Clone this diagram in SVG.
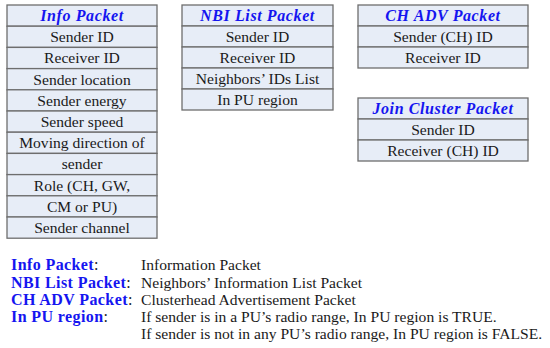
<svg xmlns="http://www.w3.org/2000/svg" width="550" height="348" viewBox="0 0 550 348">
<style>
.cell{fill:#e7edf7;stroke:#6e6e6e;stroke-width:1.3}
text{font-family:"Liberation Serif","Times New Roman",serif;font-size:15.6px}
.t{fill:#1a1a1a;text-anchor:middle}
.h{font-size:16px;letter-spacing:0.6px;font-weight:bold;font-style:italic;fill:#1515f0;text-anchor:middle}
.lb{font-size:16px;letter-spacing:0.4px;font-weight:bold;fill:#1515f0}
.ld{fill:#1a1a1a}
.c{fill:#1a1a1a;font-weight:normal}
</style>
<rect width="550" height="348" fill="#ffffff"/>
<g id="info-packet">
<rect class="cell" x="7" y="5" width="150" height="21.2"/>
<rect class="cell" x="7" y="26.2" width="150" height="21.2"/>
<rect class="cell" x="7" y="47.4" width="150" height="21.2"/>
<rect class="cell" x="7" y="68.6" width="150" height="21.2"/>
<rect class="cell" x="7" y="89.8" width="150" height="21.2"/>
<rect class="cell" x="7" y="111" width="150" height="21.2"/>
<rect class="cell" x="7" y="132.2" width="150" height="21.2"/>
<rect class="cell" x="7" y="153.4" width="150" height="21.2"/>
<rect class="cell" x="7" y="174.6" width="150" height="21.2"/>
<rect class="cell" x="7" y="195.8" width="150" height="21.2"/>
<rect class="cell" x="7" y="217" width="150" height="21.2"/>
<text class="h" x="82" y="21">Info Packet</text>
<text class="t" x="82" y="42">Sender ID</text>
<text class="t" x="82" y="63">Receiver ID</text>
<text class="t" x="82" y="84.5">Sender location</text>
<text class="t" x="82" y="105.5">Sender energy</text>
<text class="t" x="82" y="127">Sender speed</text>
<text class="t" x="82" y="148">Moving direction of</text>
<text class="t" x="82" y="169">sender</text>
<text class="t" x="82" y="190.5">Role (CH, GW,</text>
<text class="t" x="82" y="211.5">CM or PU)</text>
<text class="t" x="82" y="233">Sender channel</text>
</g>
<g id="nbi-list-packet">
<rect class="cell" x="182" y="5" width="151" height="21"/>
<rect class="cell" x="182" y="26" width="151" height="21"/>
<rect class="cell" x="182" y="47" width="151" height="21"/>
<rect class="cell" x="182" y="68" width="151" height="21"/>
<rect class="cell" x="182" y="89" width="151" height="21"/>
<text class="h" x="257.5" y="21">NBI List Packet</text>
<text class="t" x="257.5" y="42">Sender ID</text>
<text class="t" x="257.5" y="63">Receiver ID</text>
<text class="t" x="257.5" y="84">Neighbors’ IDs List</text>
<text class="t" x="257.5" y="105">In PU region</text>
</g>
<g id="ch-adv-packet">
<rect class="cell" x="358" y="5" width="170" height="21"/>
<rect class="cell" x="358" y="26" width="170" height="21"/>
<rect class="cell" x="358" y="47" width="170" height="21"/>
<text class="h" x="443" y="21">CH ADV Packet</text>
<text class="t" x="443" y="42">Sender (CH) ID</text>
<text class="t" x="443" y="63">Receiver ID</text>
</g>
<g id="join-cluster-packet">
<rect class="cell" x="358" y="98" width="170" height="21"/>
<rect class="cell" x="358" y="119" width="170" height="21"/>
<rect class="cell" x="358" y="140" width="170" height="21"/>
<text class="h" x="443" y="114">Join Cluster Packet</text>
<text class="t" x="443" y="135">Sender ID</text>
<text class="t" x="443" y="156">Receiver (CH) ID</text>
</g>
<g id="connectors"></g>
<g id="legend">
<text class="lb" x="11" y="270">Info Packet<tspan class="c">:</tspan></text>
<text class="lb" x="11" y="287.5">NBI List Packet<tspan class="c">:</tspan></text>
<text class="lb" x="11" y="304.5">CH ADV Packet<tspan class="c">:</tspan></text>
<text class="lb" x="11" y="321.5">In PU region<tspan class="c">:</tspan></text>
<text class="ld" x="141" y="270">Information Packet</text>
<text class="ld" x="141" y="287.5">Neighbors’ Information List Packet</text>
<text class="ld" x="141" y="304.5">Clusterhead Advertisement Packet</text>
<text class="ld" x="141" y="321.5">If sender is in a PU’s radio range, In PU region is TRUE.</text>
<text class="ld" x="141" y="338.5">If sender is not in any PU’s radio range, In PU region is FALSE.</text>
</g>
</svg>
